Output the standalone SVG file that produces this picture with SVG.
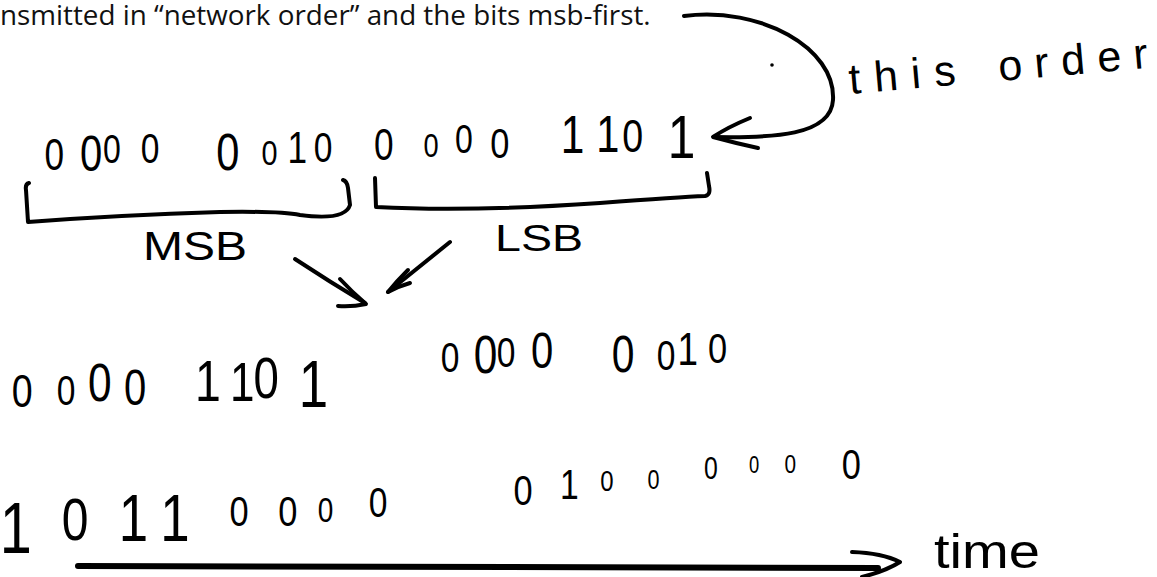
<svg xmlns="http://www.w3.org/2000/svg" width="1157" height="577" viewBox="0 0 1157 577">
  <style>
    .print { font-family: "Open Sans", "Noto Sans", sans-serif; font-size: 27.8px; fill: #111; }
    .hand { font-family: "Liberation Sans", "DejaVu Sans", sans-serif; fill: #000; text-anchor: middle; }
    .label { font-family: "Liberation Sans", "DejaVu Sans", sans-serif; fill: #000; }
    .ink { fill: none; stroke: #000; stroke-width: 4; stroke-linecap: round; stroke-linejoin: round; }
    .thick { stroke-width: 6; }
  </style>
  <rect width="1157" height="577" fill="#fff"/>

  <!-- printed caption, clipped at the left edge -->
  <g id="caption">
    <text class="print" x="0" y="25">nsmitted in “network order” and the bits msb-first.</text>
  </g>

  <!-- original 16-bit value, high byte first (digits narrowed by 0.8, x in scaled units) -->
  <g id="value-row">
    <text class="hand" transform="scale(0.8 1)">
      <tspan x="70" y="170" font-size="44">0</tspan>
      <tspan x="116" y="171" font-size="50">0</tspan>
      <tspan x="142" y="163" font-size="40">0</tspan>
      <tspan x="190" y="163" font-size="42">0</tspan>
      <tspan x="287" y="170" font-size="52">0</tspan>
      <tspan x="339" y="165" font-size="36">0</tspan>
      <tspan x="374" y="163" font-size="44">1</tspan>
      <tspan x="406" y="162" font-size="42">0</tspan>
      <tspan x="482" y="160" font-size="44">0</tspan>
      <tspan x="541" y="157" font-size="34">0</tspan>
      <tspan x="582" y="153" font-size="40">0</tspan>
      <tspan x="627" y="158" font-size="43">0</tspan>
      <tspan x="718" y="153" font-size="53">1</tspan>
      <tspan x="762" y="152" font-size="52">1</tspan>
      <tspan x="793" y="152" font-size="47">0</tspan>
      <tspan x="852" y="158" font-size="62">1</tspan>
    </text>
  </g>

  <g id="msb-label">
    <text class="label" x="143" y="260" font-size="40" textLength="104" lengthAdjust="spacingAndGlyphs">MSB</text>
  </g>
  <g id="lsb-label">
    <text class="label" x="495" y="251" font-size="36" textLength="88" lengthAdjust="spacingAndGlyphs">LSB</text>
  </g>

  <g id="order-note">
    <text class="label" font-size="43" transform="rotate(-5 850 94)"><tspan x="850" y="94" textLength="107" lengthAdjust="spacing">this</tspan> <tspan x="1000" y="94" textLength="150" lengthAdjust="spacing">order</tspan></text>
  </g>

  <!-- bytes swapped: low byte first -->
  <g id="byte-row">
    <text class="hand" transform="scale(0.8 1)">
      <tspan x="30" y="407" font-size="47">0</tspan>
      <tspan x="85" y="405" font-size="42">0</tspan>
      <tspan x="127" y="401" font-size="53">0</tspan>
      <tspan x="171" y="405" font-size="50">0</tspan>
      <tspan x="262" y="401" font-size="58">1</tspan>
      <tspan x="305" y="401" font-size="55">1</tspan>
      <tspan x="335" y="398" font-size="57">0</tspan>
      <tspan x="394" y="407" font-size="66">1</tspan>
      <tspan x="565" y="372" font-size="42">0</tspan>
      <tspan x="609" y="373" font-size="53">0</tspan>
      <tspan x="635" y="367" font-size="42">0</tspan>
      <tspan x="680" y="368" font-size="50">0</tspan>
      <tspan x="781" y="372" font-size="51">0</tspan>
      <tspan x="835" y="370" font-size="42">0</tspan>
      <tspan x="862" y="365" font-size="46">1</tspan>
      <tspan x="897" y="363" font-size="43">0</tspan>
    </text>
  </g>

  <!-- bits reversed inside each byte, in transmit order -->
  <g id="bit-row">
    <text class="hand" transform="scale(0.8 1)">
      <tspan x="22" y="553" font-size="72">1</tspan>
      <tspan x="96" y="540" font-size="60">0</tspan>
      <tspan x="169" y="541" font-size="66">1</tspan>
      <tspan x="221" y="541" font-size="66">1</tspan>
      <tspan x="301" y="526" font-size="43">0</tspan>
      <tspan x="362" y="526" font-size="43">0</tspan>
      <tspan x="409" y="522" font-size="35">0</tspan>
      <tspan x="475" y="517" font-size="42">0</tspan>
      <tspan x="656" y="505" font-size="43">0</tspan>
      <tspan x="714" y="499" font-size="42">1</tspan>
      <tspan x="761" y="491" font-size="30">0</tspan>
      <tspan x="819" y="489" font-size="27">0</tspan>
      <tspan x="891" y="479" font-size="31">0</tspan>
      <tspan x="945" y="473" font-size="23">0</tspan>
      <tspan x="990" y="473" font-size="26">0</tspan>
      <tspan x="1064" y="479" font-size="43">0</tspan>
    </text>
  </g>

  <g id="time-label">
    <text class="label" x="934" y="568" font-size="48" textLength="106" lengthAdjust="spacingAndGlyphs">time</text>
  </g>

  <g id="connectors">
    <!-- curved pointer from the caption into the value -->
    <path class="ink" d="M684,16 C760,6 836,48 833,100 C831,136 772,138 715,137"/>
    <path class="ink" d="M750,118 Q728,127 713,137 Q735,143 758,148"/>
    <circle cx="772" cy="65" r="1.8" fill="#000"/>
    <!-- MSB bracket -->
    <path class="ink" d="M29,183 Q25,184 26,190 L28,222 Q120,215 220,212 Q280,211 300,215 Q345,221 350,205 L348,188 Q347,181 343,180"/>
    <!-- LSB bracket -->
    <path class="ink" d="M375,178 L376,207 Q470,212 600,203 Q680,197 705,196 Q711,195 709,186 L707,173"/>
    <!-- converging arrows -->
    <path class="ink" d="M295,259 Q330,282 365,303"/>
    <path class="ink" d="M340,279 Q352,292 366,304 Q352,307 338,306"/>
    <path class="ink" d="M450,242 L388,292"/>
    <path class="ink" d="M408,270 Q397,281 388,292 Q399,286 410,283"/>
    <!-- time axis -->
    <path class="ink thick" d="M78,566 L878,568"/>
    <path class="ink" d="M852,552 Q882,553 900,562 Q886,571 862,577"/>
  </g>
</svg>
